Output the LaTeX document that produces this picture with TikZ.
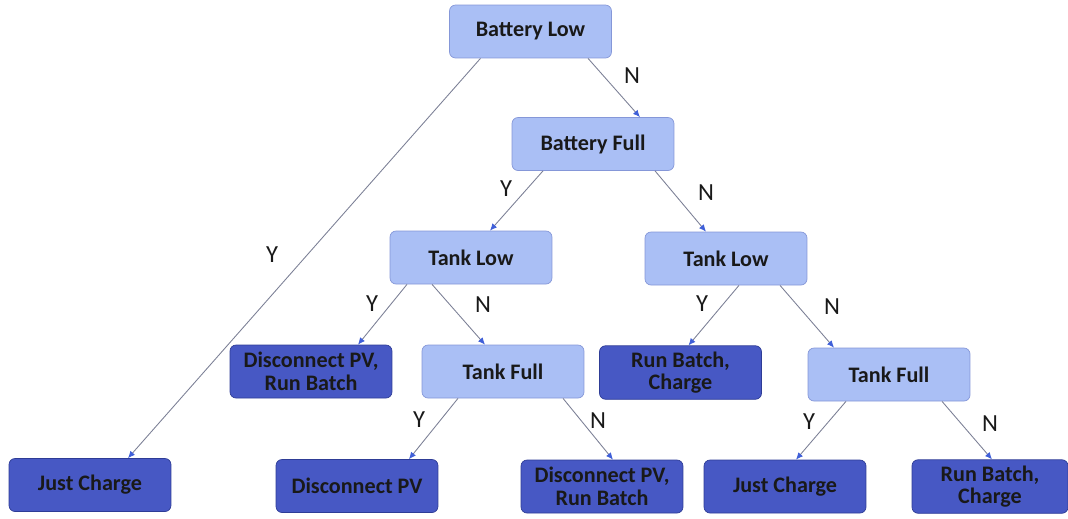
\documentclass[tikz,border=0pt]{standalone}
\usepackage{fontspec}
\setmainfont{Carlito}
\usetikzlibrary{arrows.meta}
\definecolor{claro}{HTML}{AABFF5}
\definecolor{clarob}{HTML}{8597D8}
\definecolor{oscuro}{HTML}{4758C4}
\definecolor{oscurob}{HTML}{2E3C96}
\definecolor{linea}{HTML}{7C8096}
\definecolor{punta}{HTML}{3F5FD8}

\begin{document}
\begin{tikzpicture}[x=0.02cm, y=-0.02cm,
  pregunta/.style={draw=clarob, fill=claro, rounded corners=1.2mm, minimum width=3.24cm, minimum height=1.06cm, align=center, font=\fontsize{12.6}{13}\selectfont\bfseries, text=black!90},
  accion/.style={draw=oscurob, fill=oscuro, rounded corners=1.2mm, minimum width=3.24cm, minimum height=1.06cm, align=center, font=\fontsize{12.6}{12.8}\selectfont\bfseries, text=black!90},
  rama/.style={-{Latex[length=4pt, width=3.5pt, color=punta]}, draw=linea, line width=0.5pt},
  etiqueta/.style={font=\fontsize{14}{15}\selectfont, text=black!90}]
\useasboundingbox (0,0) rectangle (1068,518);
% decisiones
\node[pregunta] (bl) at (530.5,31.5) {Battery Low};
\node[pregunta] (bf) at (593,144) {Battery Full};
\node[pregunta] (tl1) at (471,257.5) {Tank Low};
\node[pregunta] (tl2) at (726,258.5) {Tank Low};
\node[pregunta] (tf1) at (503,371.5) {Tank Full};
\node[pregunta] (tf2) at (889,374.5) {Tank Full};
% acciones
\node[accion] (dr1) at (311,371.5) {Disconnect PV,\\Run Batch};
\node[accion] (rc1) at (680.5,372.5) {Run Batch,\\Charge};
\node[accion] (jc1) at (90,485) {Just Charge};
\node[accion] (dp) at (357,486) {Disconnect PV};
\node[accion] (dr2) at (602,486.5) {Disconnect PV,\\Run Batch};
\node[accion] (jc2) at (785,486.5) {Just Charge};
\node[accion, minimum width=3.12cm] (rc2) at (990,486.5) {Run Batch,\\Charge};
% ramas
\draw[rama] ([xshift=1.15cm]bl.south) -- ([xshift=0.94cm]bf.north);
\draw[rama] ([xshift=-1.0cm]bl.south) -- ([xshift=0.76cm]jc1.north);
\draw[rama] ([xshift=-1.0cm]bf.south) -- ([xshift=0.38cm]tl1.north);
\draw[rama] ([xshift=1.24cm]bf.south) -- ([xshift=-0.4cm]tl2.north);
\draw[rama] ([xshift=-1.28cm]tl1.south) -- ([xshift=0.94cm]dr1.north);
\draw[rama] ([xshift=-0.78cm]tl1.south) -- ([xshift=-0.36cm]tf1.north);
\draw[rama] ([xshift=0.26cm]tl2.south) -- ([xshift=0.16cm]rc1.north);
\draw[rama] ([xshift=1.08cm]tl2.south) -- ([xshift=-1.1cm]tf2.north);
\draw[rama] ([xshift=-0.9cm]tf1.south) -- ([xshift=1.04cm]dp.north);
\draw[rama] ([xshift=1.2cm]tf1.south) -- ([xshift=0.22cm]dr2.north);
\draw[rama] ([xshift=-0.86cm]tf2.south) -- ([xshift=0.22cm]jc2.north);
\draw[rama] ([xshift=1.06cm]tf2.south) -- ([xshift=0.04cm]rc2.north);
% etiquetas
\node[etiqueta] (n1) at (632,76) {N};
\node[etiqueta] (y1) at (272,255) {Y};
\node[etiqueta] (y2) at (506,189) {Y};
\node[etiqueta] (n2) at (706,193) {N};
\node[etiqueta] (y3) at (372,304) {Y};
\node[etiqueta] (n3) at (483,305) {N};
\node[etiqueta] (y4) at (702,304) {Y};
\node[etiqueta] (n4) at (832,307) {N};
\node[etiqueta] (y5) at (419,420) {Y};
\node[etiqueta] (n5) at (598,421) {N};
\node[etiqueta] (y6) at (809,422) {Y};
\node[etiqueta] (n6) at (990,424) {N};
\end{tikzpicture}
\end{document}
